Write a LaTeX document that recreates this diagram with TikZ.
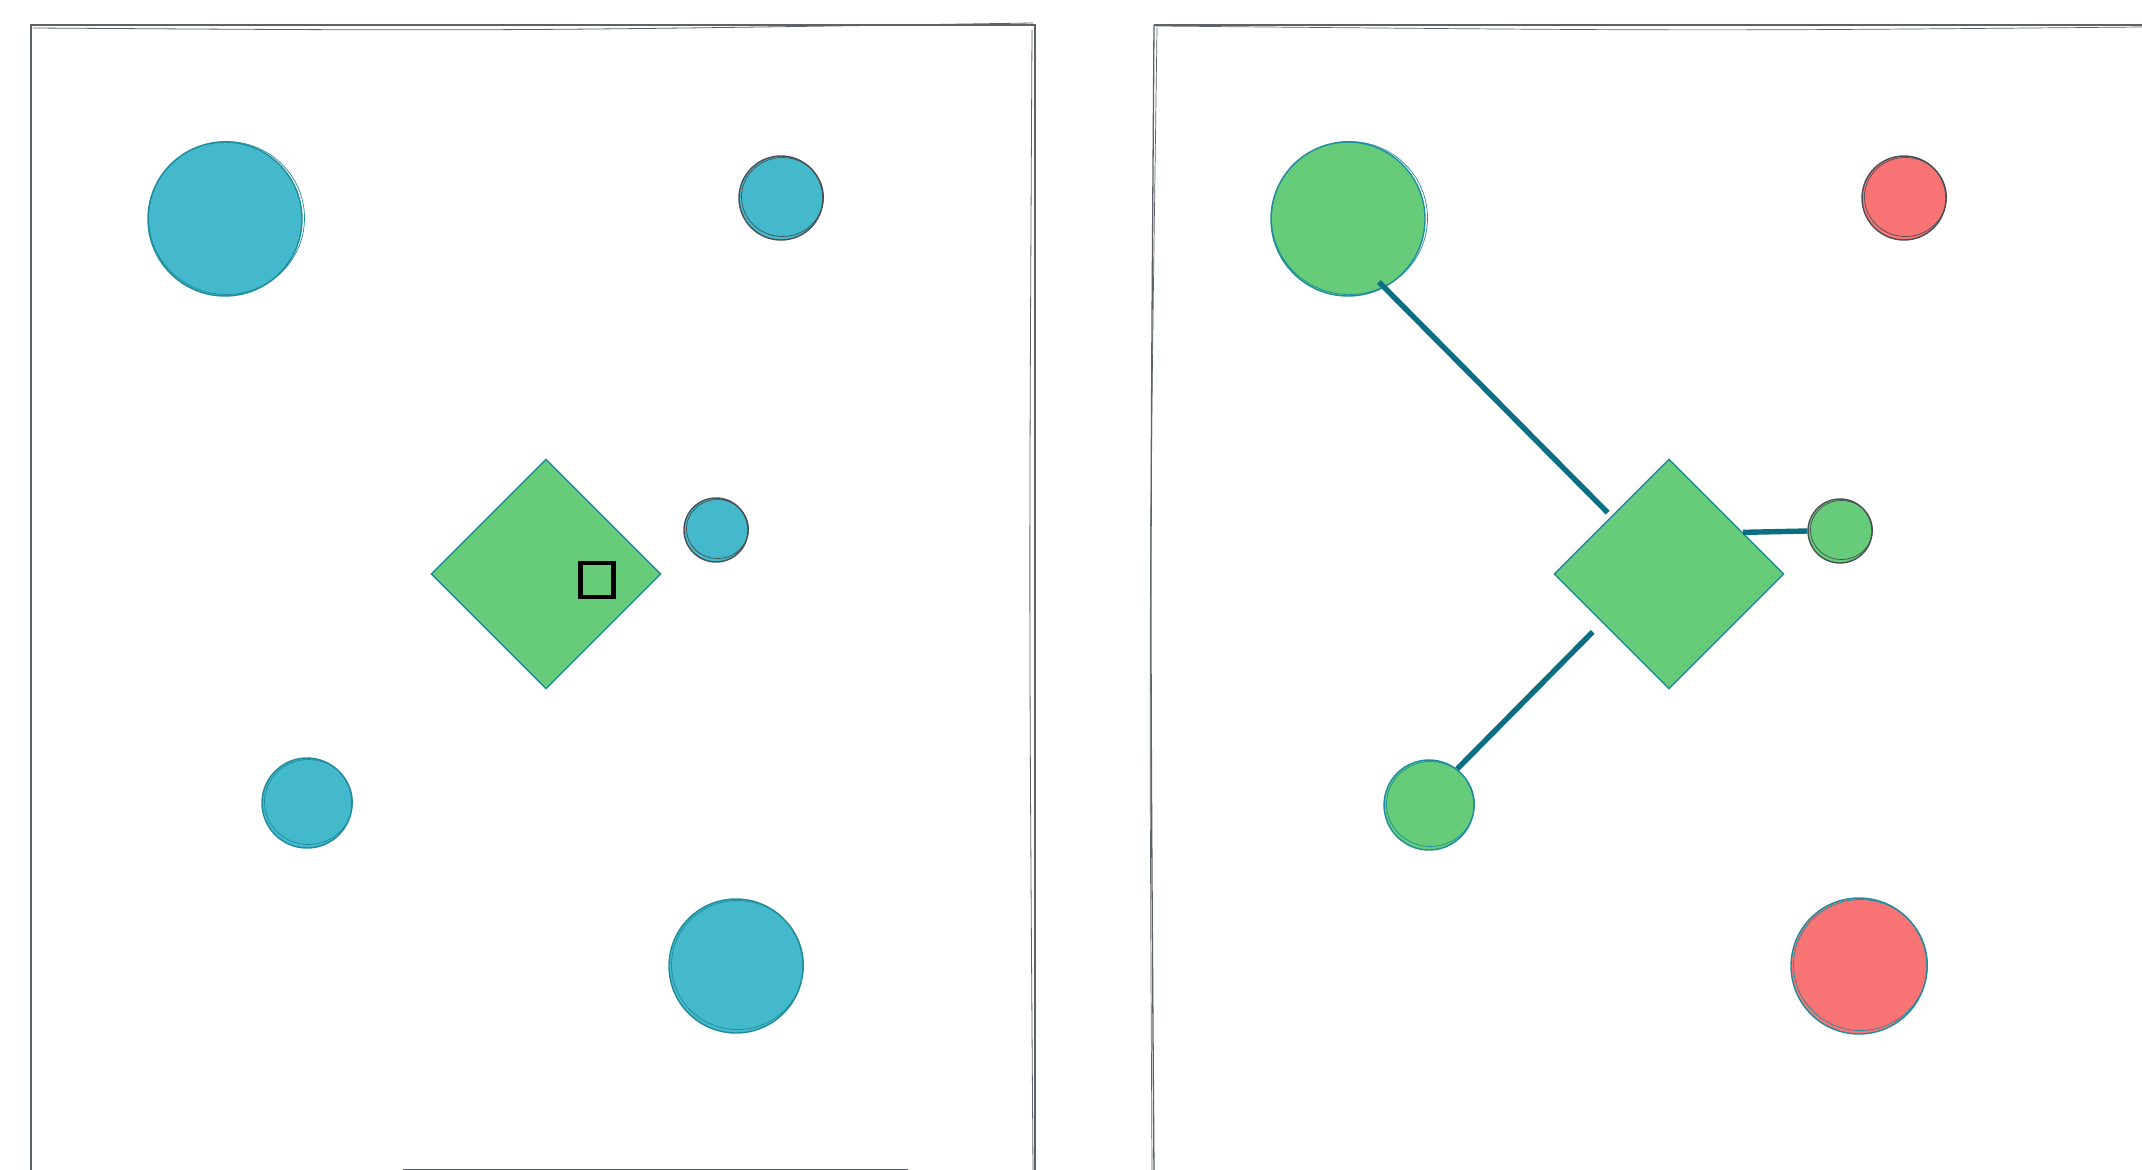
\documentclass[tikz,border=0pt]{standalone}
\usetikzlibrary{shapes.geometric,calc}
\definecolor{frameC}{HTML}{5C6268}
\definecolor{tealF}{HTML}{43B9CB}
\definecolor{tealS}{HTML}{1E8C9C}
\definecolor{greenF}{HTML}{66CC79}
\definecolor{redF}{HTML}{F87474}
\definecolor{grayS}{HTML}{4A4F55}
\definecolor{linkC}{HTML}{0C6E82}
\tikzset{
  frame/.style={draw=frameC, line width=2.6pt},
  dot/.style={circle, inner sep=0pt, line width=1.4pt},
  tdot/.style={dot, fill=tealF, draw=tealS},
  tdotg/.style={dot, fill=tealF, draw=grayS},
  gdot/.style={dot, fill=greenF, draw=tealS},
  gdotg/.style={dot, fill=greenF, draw=grayS},
  rdot/.style={dot, fill=redF, draw=grayS},
  rdott/.style={dot, fill=redF, draw=tealS},
  gem/.style={diamond, aspect=1, inner sep=0pt, minimum width=230pt, minimum height=230pt, fill=greenF, draw=tealS, line width=1.4pt},
  selbox/.style={rectangle, inner sep=0pt, minimum width=33pt, minimum height=34pt, draw=black, line width=4.2pt},
  link/.style={draw=linkC, line width=5.4pt},
}
\begin{document}
\begin{tikzpicture}[x=1pt,y=-1pt]
\useasboundingbox (0,0) rectangle (2142,1170);
\clip (0,0) rectangle (2142,1170);
% frames
\draw[frame] (31,25) -- (1035,25) -- (1035,1173) -- (31,1173) -- cycle;
\draw[frameC, line width=1.6pt] (403,1169.5) -- (908,1169.5);
\draw[frameC, line width=0.8pt] (33,28) .. controls (500,31) .. (1033,23);
\draw[frameC, line width=0.8pt] (1032,30) .. controls (1029,600) .. (1033,1170);
\draw[frameC, line width=1.3pt] (1154,25) -- (2150,25);
\draw[frameC, line width=1.3pt] (1154,25) .. controls (1150,600) .. (1154,1175);
\draw[frameC, line width=0.7pt] (1156,26) .. controls (1700,31) .. (2142,27);
\draw[frameC, line width=0.7pt] (1157,28) .. controls (1149,600) .. (1152,1170);

% left panel
\node[tdot, minimum size=154pt] (a1) at (225,219) {};
\node[tdotg, minimum size=84pt] (a2) at (781,198) {};
\node[gem] (ad) at (546,574) {};
\node[selbox] (asel) at (597,580) {};
\node[tdotg, minimum size=64pt] (a3) at (716,530) {};
\node[tdot, minimum size=90pt] (a4) at (307,803) {};
\node[tdot, minimum size=134pt] (a5) at (736,966) {};

% right panel
\node[gdot, minimum size=154pt] (b1) at (1348,219) {};
\node[rdot, minimum size=84pt] (b2) at (1904,198) {};
\node[gem] (bd) at (1669,574) {};
\node[gdotg, minimum size=64pt] (b3) at (1840,531) {};
\node[gdot, minimum size=90pt] (b4) at (1429,805) {};
\node[rdott, minimum size=136pt] (b5) at (1859,966) {};

% sketchy second strokes
\foreach \n/\r/\c in {a1/78/tealS,a2/41/grayS,a3/31/grayS,a4/44/tealS,a5/66/tealS,b1/78/tealS,b2/41/grayS,b3/31/grayS,b4/44/tealS,b5/67/tealS}{
  \draw[\c, line width=0.7pt] ($(\n.center)+(1.5,-1)$) circle [x radius=\r pt, y radius=\r pt-1.5pt];
}

% connectors
\draw[link, shorten <=-8pt, shorten >=5pt] (b1.-62) -- ($(bd.north)!0.5!(bd.west)$);
\draw[link] (b3.west) -- ($(bd.north)!0.64!(bd.east)$);
\draw[link, shorten >=13pt] (b4.52) -- ($(bd.west)!0.42!(bd.south)$);
\end{tikzpicture}
\end{document}
